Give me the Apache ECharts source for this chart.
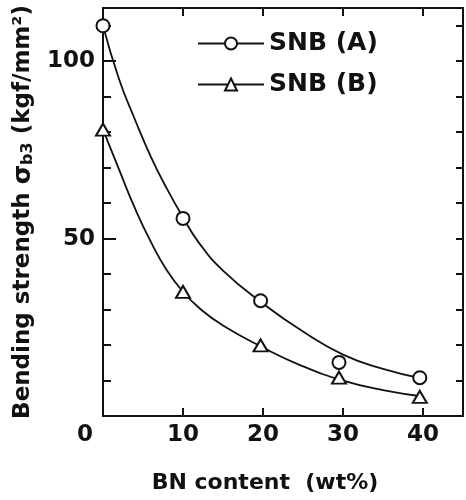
<!DOCTYPE html>
<html>
<head>
<meta charset="utf-8">
<script src="https://cdn.jsdelivr.net/npm/echarts@6/dist/echarts.min.js"></script>
<style>
html,body{margin:0;padding:0;background:#fff;}
#c{width:466px;height:500px;}
</style>
</head>
<body>
<div id="c"></div>
<script>
// measured data points
const xPts = [0, 10, 19.7, 29.5, 39.6];
const snbA = [110, 55.7, 32.5, 15.1, 10.8];
const snbB = [80.7, 35, 19.9, 10.8, 5.4];
// fitted curves
const curveX = [0, 2, 4, 6, 8, 10, 12, 15, 20, 25, 30, 35, 40];
const curveA = [110, 95, 83.5, 73, 64, 56, 48.8, 41, 31.7, 23.8, 17.3, 13.3, 10.5];
const curveB = [80.7, 69.5, 58.5, 49, 41, 35, 30.5, 25.5, 19.3, 14, 10, 7.3, 5.5];
const xTicks = [0, 10, 20, 30, 40];
const yTickLabels = [50, 100];
const seriesNames = ['SNB (A)', 'SNB (B)'];

const FONT = 'DejaVu Sans';
const zip = (xs, ys) => xs.map((x, i) => [x, ys[i]]);

const chart = echarts.init(document.getElementById('c'), null, {renderer: 'canvas'});
const black = '#111';
const option = {
  animation: false,
  backgroundColor: '#fff',
  grid: {left: 103, right: 3, top: 8, bottom: 84},
  legend: {
    data: seriesNames,
    orient: 'vertical',
    left: 197,
    top: 31,
    padding: 0,
    itemWidth: 66,
    itemHeight: 15,
    itemGap: 16,
    textStyle: {fontFamily: FONT, fontWeight: 'bold', fontSize: 25, color: black},
    selectedMode: false
  },
  xAxis: [{
    type: 'value', min: 0, max: 45, interval: 10, position: 'bottom',
    name: 'BN content  (wt%)', nameLocation: 'middle', nameGap: 56,
    nameTextStyle: {fontFamily: FONT, fontWeight: 'bold', fontSize: 22, color: black, padding: [0, 36, 0, 0]},
    axisLine: {onZero: false, lineStyle: {color: black, width: 2}},
    axisTick: {inside: true, length: 8, lineStyle: {color: black, width: 2}},
    splitLine: {show: false},
    axisLabel: {
      margin: 8, showMaxLabel: false,
      fontFamily: FONT, fontWeight: 'bold', fontSize: 23, color: black,
      formatter: v => xTicks.indexOf(v) < 0 ? '' : (v === 0 ? '{z|0}' : String(v)),
      rich: {z: {fontFamily: FONT, fontWeight: 'bold', fontSize: 23, color: black, padding: [0, 36, 0, 0]}}
    }
  }, {
    type: 'value', min: 0, max: 45, interval: 10, position: 'top',
    axisLine: {onZero: false, lineStyle: {color: black, width: 2}},
    axisTick: {inside: true, length: 8, lineStyle: {color: black, width: 2}},
    splitLine: {show: false}, axisLabel: {show: false}
  }],
  yAxis: [{
    type: 'value', min: 0, max: 115, interval: 10, position: 'left',
    name: 'Bending strength {s|σ}{sub|b3} (kgf/mm²)', nameLocation: 'middle', nameGap: 59,
    nameTextStyle: {
      fontFamily: FONT, fontWeight: 'bold', fontSize: 23, color: black,
      rich: {
        s: {fontFamily: FONT, fontWeight: 'bold', fontSize: 25, color: black},
        sub: {fontFamily: FONT, fontWeight: 'bold', fontSize: 16, color: black, verticalAlign: 'bottom', padding: [10, 0, 0, 0]}
      }
    },
    axisLine: {onZero: false, lineStyle: {color: black, width: 2}},
    axisTick: {inside: true, length: 8, lineStyle: {color: black, width: 2}},
    splitLine: {show: false},
    axisLabel: {
      margin: 8, showMaxLabel: false,
      fontFamily: FONT, fontWeight: 'bold', fontSize: 23, color: black,
      formatter: v => yTickLabels.indexOf(v) < 0 ? '' : String(v)
    }
  }, {
    type: 'value', min: 0, max: 115, interval: 10, position: 'right',
    axisLine: {onZero: false, lineStyle: {color: black, width: 2}},
    axisTick: {inside: true, length: 7, lineStyle: {color: black, width: 2}},
    splitLine: {show: false}, axisLabel: {show: false}
  }, {
    type: 'value', min: 0, max: 115, interval: 50, position: 'left',
    axisLine: {onZero: false, show: false},
    axisTick: {inside: true, length: 13, lineStyle: {color: black, width: 2}},
    splitLine: {show: false}, axisLabel: {show: false}
  }],
  series: [
    {
      name: seriesNames[0], type: 'line', data: zip(curveX, curveA), smooth: 0.5,
      symbol: 'emptyCircle', showSymbol: false, symbolSize: 12,
      lineStyle: {color: black, width: 1.8}, itemStyle: {color: black, borderWidth: 1.8}, z: 2
    },
    {
      name: seriesNames[1], type: 'line', data: zip(curveX, curveB), smooth: 0.5,
      symbol: 'emptyTriangle', showSymbol: false, symbolSize: 12,
      lineStyle: {color: black, width: 1.8}, itemStyle: {color: black, borderWidth: 1.8}, z: 2
    },
    {
      name: 'A points', type: 'scatter', data: zip(xPts, snbA),
      symbol: 'emptyCircle', symbolSize: 13,
      itemStyle: {color: black, borderColor: black, borderWidth: 1.8, opacity: 1}, z: 5
    },
    {
      name: 'B points', type: 'scatter', data: zip(xPts, snbB),
      symbol: 'emptyTriangle', symbolSize: [14, 12],
      itemStyle: {color: black, borderColor: black, borderWidth: 1.8, opacity: 1}, z: 5
    }
  ]
};
chart.setOption(option);
</script>
</body>
</html>
